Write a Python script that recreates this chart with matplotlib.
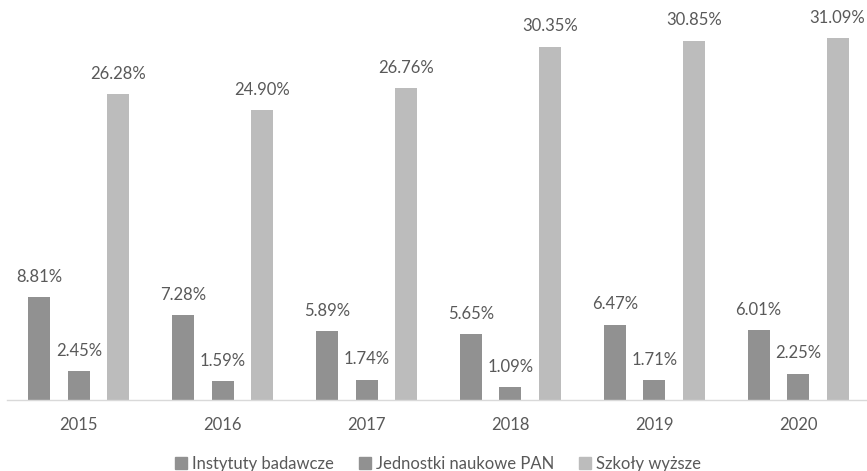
import numpy as np
import matplotlib.pyplot as plt
from matplotlib.patches import Patch

plt.rcParams['font.family'] = ['Lato', 'DejaVu Sans']

years = ['2015', '2016', '2017', '2018', '2019', '2020']
series_names = ['Instytuty badawcze', 'Jednostki naukowe PAN', 'Szkoły wyższe']
instytuty = [8.81, 7.28, 5.89, 5.65, 6.47, 6.01]
jednostki = [2.45, 1.59, 1.74, 1.09, 1.71, 2.25]
szkoly = [26.28, 24.90, 26.76, 30.35, 30.85, 31.09]
colors = ['#919191', '#919191', '#bcbcbc']
text_color = '#595959'

W, H = 867, 471
fig = plt.figure(figsize=(W / 100, H / 100), dpi=100)
# plot area roughly as in the original (Excel-like layout)
ax = fig.add_axes([7 / W, 71 / H, 863 / W, 395.8 / H])

x = np.arange(len(years))
width = 0.153
offsets = [-0.275, 0, 0.275]
for vals, off, col in zip([instytuty, jednostki, szkoly], offsets, colors):
    bars = ax.bar(x + off, vals, width, color=col)
    for b, v in zip(bars, vals):
        ax.annotate(f'{v:.2f}%', (b.get_x() + b.get_width() / 2, v),
                    xytext=(0, 9), textcoords='offset points',
                    ha='center', va='bottom', fontsize=12, color=text_color)

ax.set_xlim(-0.5, len(years) - 0.5)
ax.set_ylim(0, 34)
ax.set_xticks(x)
ax.set_xticklabels(years, fontsize=12, color=text_color)
ax.tick_params(axis='x', length=0, pad=12)
ax.set_yticks([])
for s in ['top', 'right', 'left']:
    ax.spines[s].set_visible(False)
ax.spines['bottom'].set_color('#d9d9d9')
ax.spines['bottom'].set_linewidth(1)

handles = [Patch(color=c, label=n) for c, n in zip(colors, series_names)]
fig.legend(handles=handles, loc='center', bbox_to_anchor=(438 / W, 1 - 464 / H),
           ncol=3, frameon=False, fontsize=12, handlelength=0.7, handleheight=0.7,
           handletextpad=0.3, columnspacing=1.5, labelcolor=text_color)

fig.savefig('out.png', dpi=100)
